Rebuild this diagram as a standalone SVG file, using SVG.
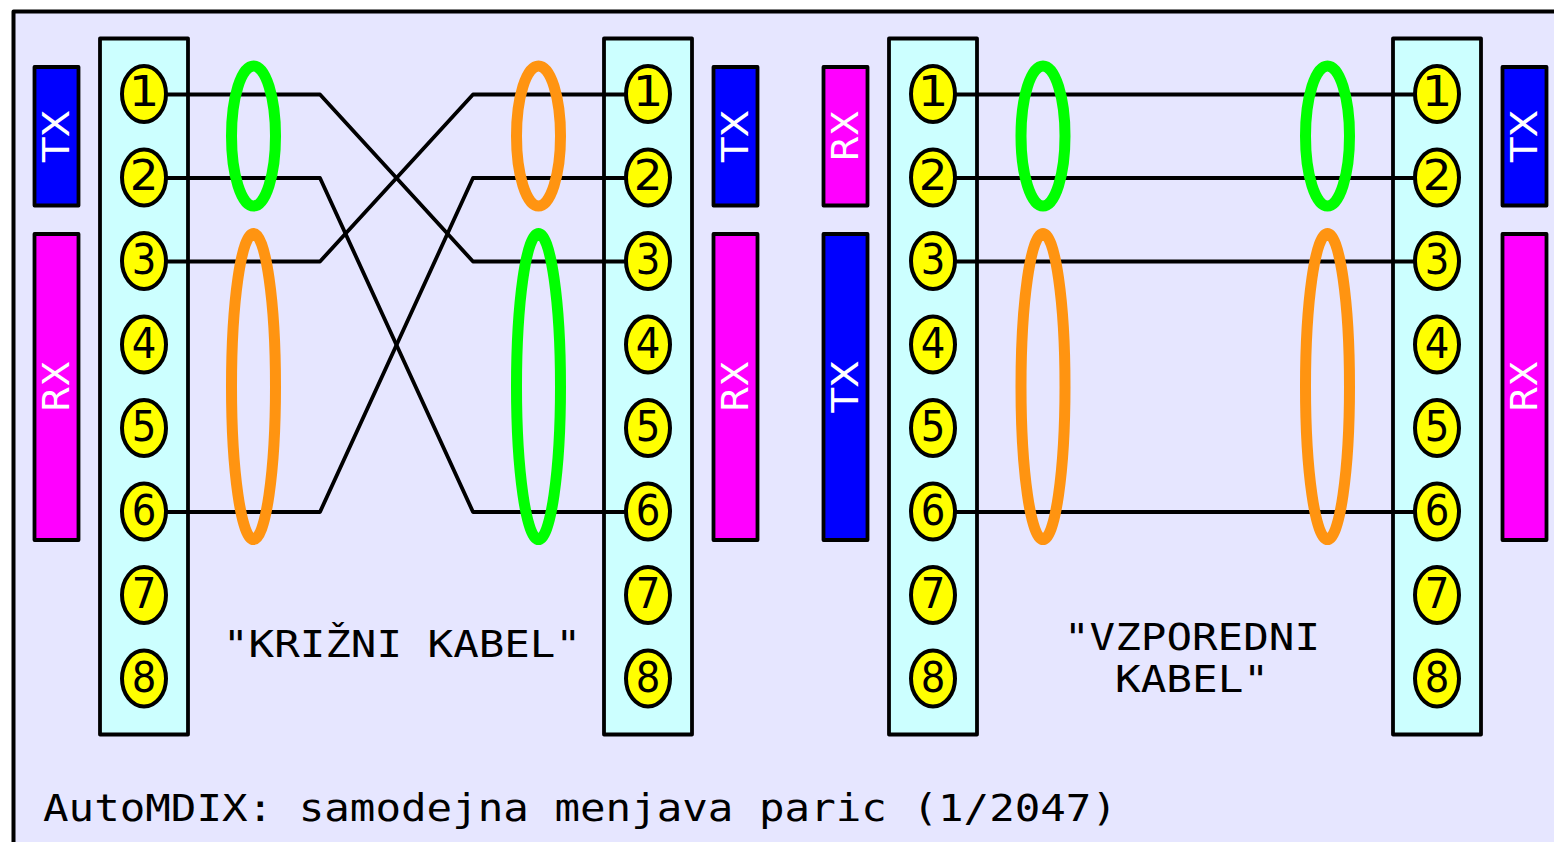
<svg xmlns="http://www.w3.org/2000/svg" width="1554" height="842" viewBox="0 0 1554 842">
<style>
.bg{fill:#e6e6ff;stroke:#000;stroke-width:4;stroke-linejoin:round}
.panel{fill:#ccffff;stroke:#000;stroke-width:3.800;stroke-linejoin:round}
.blue{fill:#0000ff;stroke:#000;stroke-width:3.800;stroke-linejoin:round}
.mag{fill:#ff00ff;stroke:#000;stroke-width:3.800;stroke-linejoin:round}
.pin{fill:#ffff00;stroke:#000;stroke-width:4}
.num{font-family:"DejaVu Sans",sans-serif;font-size:43px;text-anchor:middle;fill:#000}
.lab{font-family:"DejaVu Sans",sans-serif;font-size:37px;text-anchor:middle;fill:#fff}
.mono{font-family:"DejaVu Sans Mono",monospace;font-size:37px;fill:#000}
.w{fill:none;stroke:#000;stroke-width:3.800;stroke-linejoin:round}
.g{fill:none;stroke:#00ff00;stroke-width:11}
.o{fill:none;stroke:#ff9411;stroke-width:11}
</style>
<defs>
<g id="pins">
<g id="p1"><ellipse class="pin" cx="144" cy="94" rx="22" ry="28"/><text class="num" transform="translate(144 106) scale(1.12 1)">1</text></g>
<g id="p2"><ellipse class="pin" cx="144" cy="177.500" rx="22" ry="28"/><text class="num" transform="translate(144 190) scale(1.05 1)">2</text></g>
<g id="p3"><ellipse class="pin" cx="144" cy="261" rx="22" ry="28"/><text class="num" transform="translate(144 274) scale(.9 1)">3</text></g>
<g id="p4"><ellipse class="pin" cx="144" cy="344.500" rx="22" ry="28"/><text class="num" transform="translate(144 357.500) scale(.9 1)">4</text></g>
<g id="p5"><ellipse class="pin" cx="144" cy="428" rx="22" ry="28"/><text class="num" transform="translate(144 441) scale(.9 1)">5</text></g>
<g id="p6"><ellipse class="pin" cx="144" cy="511.500" rx="22" ry="28"/><text class="num" transform="translate(144 524.500) scale(.9 1)">6</text></g>
<g id="p7"><ellipse class="pin" cx="144" cy="595" rx="22" ry="28"/><text class="num" transform="translate(144 608) scale(.9 1)">7</text></g>
<g id="p8"><ellipse class="pin" cx="144" cy="678.500" rx="22" ry="28"/><text class="num" transform="translate(144 691.500) scale(.9 1)">8</text></g>
</g>
</defs>
<rect class="bg" x="13.500" y="11.500" width="1600" height="900"/>
<g id="panels">
<rect class="panel" x="100" y="38.500" width="88" height="696"/>
<rect class="panel" x="604" y="38.500" width="88" height="696"/>
<rect class="panel" x="889" y="38.500" width="88" height="696"/>
<rect class="panel" x="1393" y="38.500" width="88" height="696"/>
</g>
<g id="connectors">
<path class="w" d="M166 94.500H320L473 261.500H626"/>
<path class="w" d="M166 178H320L473 512H626"/>
<path class="w" d="M166 261.500H320L473 94.500H626"/>
<path class="w" d="M166 512H320L473 178H626"/>
<path class="w" d="M955 94.500H1415M955 178H1415M955 261.500H1415M955 512H1415"/>
</g>
<g id="pairs">
<ellipse class="g" cx="253.500" cy="136" rx="22" ry="70"/>
<ellipse class="o" cx="253.500" cy="386.500" rx="22" ry="153"/>
<ellipse class="o" cx="538.500" cy="136" rx="22" ry="70"/>
<ellipse class="g" cx="538.500" cy="386.500" rx="22" ry="153"/>
<ellipse class="g" cx="1043" cy="136" rx="22" ry="70"/>
<ellipse class="o" cx="1043" cy="386.500" rx="22" ry="153"/>
<ellipse class="g" cx="1327.500" cy="136" rx="22" ry="70"/>
<ellipse class="o" cx="1327.500" cy="386.500" rx="22" ry="153"/>
</g>
<g id="conn-a"><use href="#pins"/></g>
<g id="conn-b"><use href="#pins" x="504"/></g>
<g id="conn-c"><use href="#pins" x="789"/></g>
<g id="conn-d"><use href="#pins" x="1293"/></g>
<g id="tag-a-tx"><rect class="blue" x="34.500" y="67" width="44" height="138.500"/><text class="lab" transform="translate(69 136) rotate(-90) scale(1.1 1)">TX</text></g>
<g id="tag-a-rx"><rect class="mag" x="34.500" y="234" width="44" height="306"/><text class="lab" transform="translate(69 386.500) rotate(-90)">RX</text></g>
<g id="tag-b-tx"><rect class="blue" x="713.500" y="67" width="44" height="138.500"/><text class="lab" transform="translate(748 136) rotate(-90) scale(1.1 1)">TX</text></g>
<g id="tag-b-rx"><rect class="mag" x="713.500" y="234" width="44" height="306"/><text class="lab" transform="translate(748 386.500) rotate(-90)">RX</text></g>
<g id="tag-c-rx"><rect class="mag" x="823.500" y="67" width="44" height="138.500"/><text class="lab" transform="translate(858 136) rotate(-90)">RX</text></g>
<g id="tag-c-tx"><rect class="blue" x="823.500" y="234" width="44" height="306"/><text class="lab" transform="translate(858 386.500) rotate(-90) scale(1.1 1)">TX</text></g>
<g id="tag-d-tx"><rect class="blue" x="1502.500" y="67" width="44" height="138.500"/><text class="lab" transform="translate(1537 136) rotate(-90) scale(1.1 1)">TX</text></g>
<g id="tag-d-rx"><rect class="mag" x="1502.500" y="234" width="44" height="306"/><text class="lab" transform="translate(1537 386.500) rotate(-90)">RX</text></g>
<g id="captions">
<text class="mono" x="223" y="657" textLength="358" lengthAdjust="spacingAndGlyphs">"KRIŽNI KABEL"</text>
<text class="mono" x="1064" y="650" textLength="256" lengthAdjust="spacingAndGlyphs">"VZPOREDNI</text>
<text class="mono" x="1115" y="692" textLength="154" lengthAdjust="spacingAndGlyphs">KABEL"</text>
<text class="mono" x="43" y="821" textLength="1074" lengthAdjust="spacingAndGlyphs">AutoMDIX: samodejna menjava paric (1/2047)</text>
</g>
</svg>
